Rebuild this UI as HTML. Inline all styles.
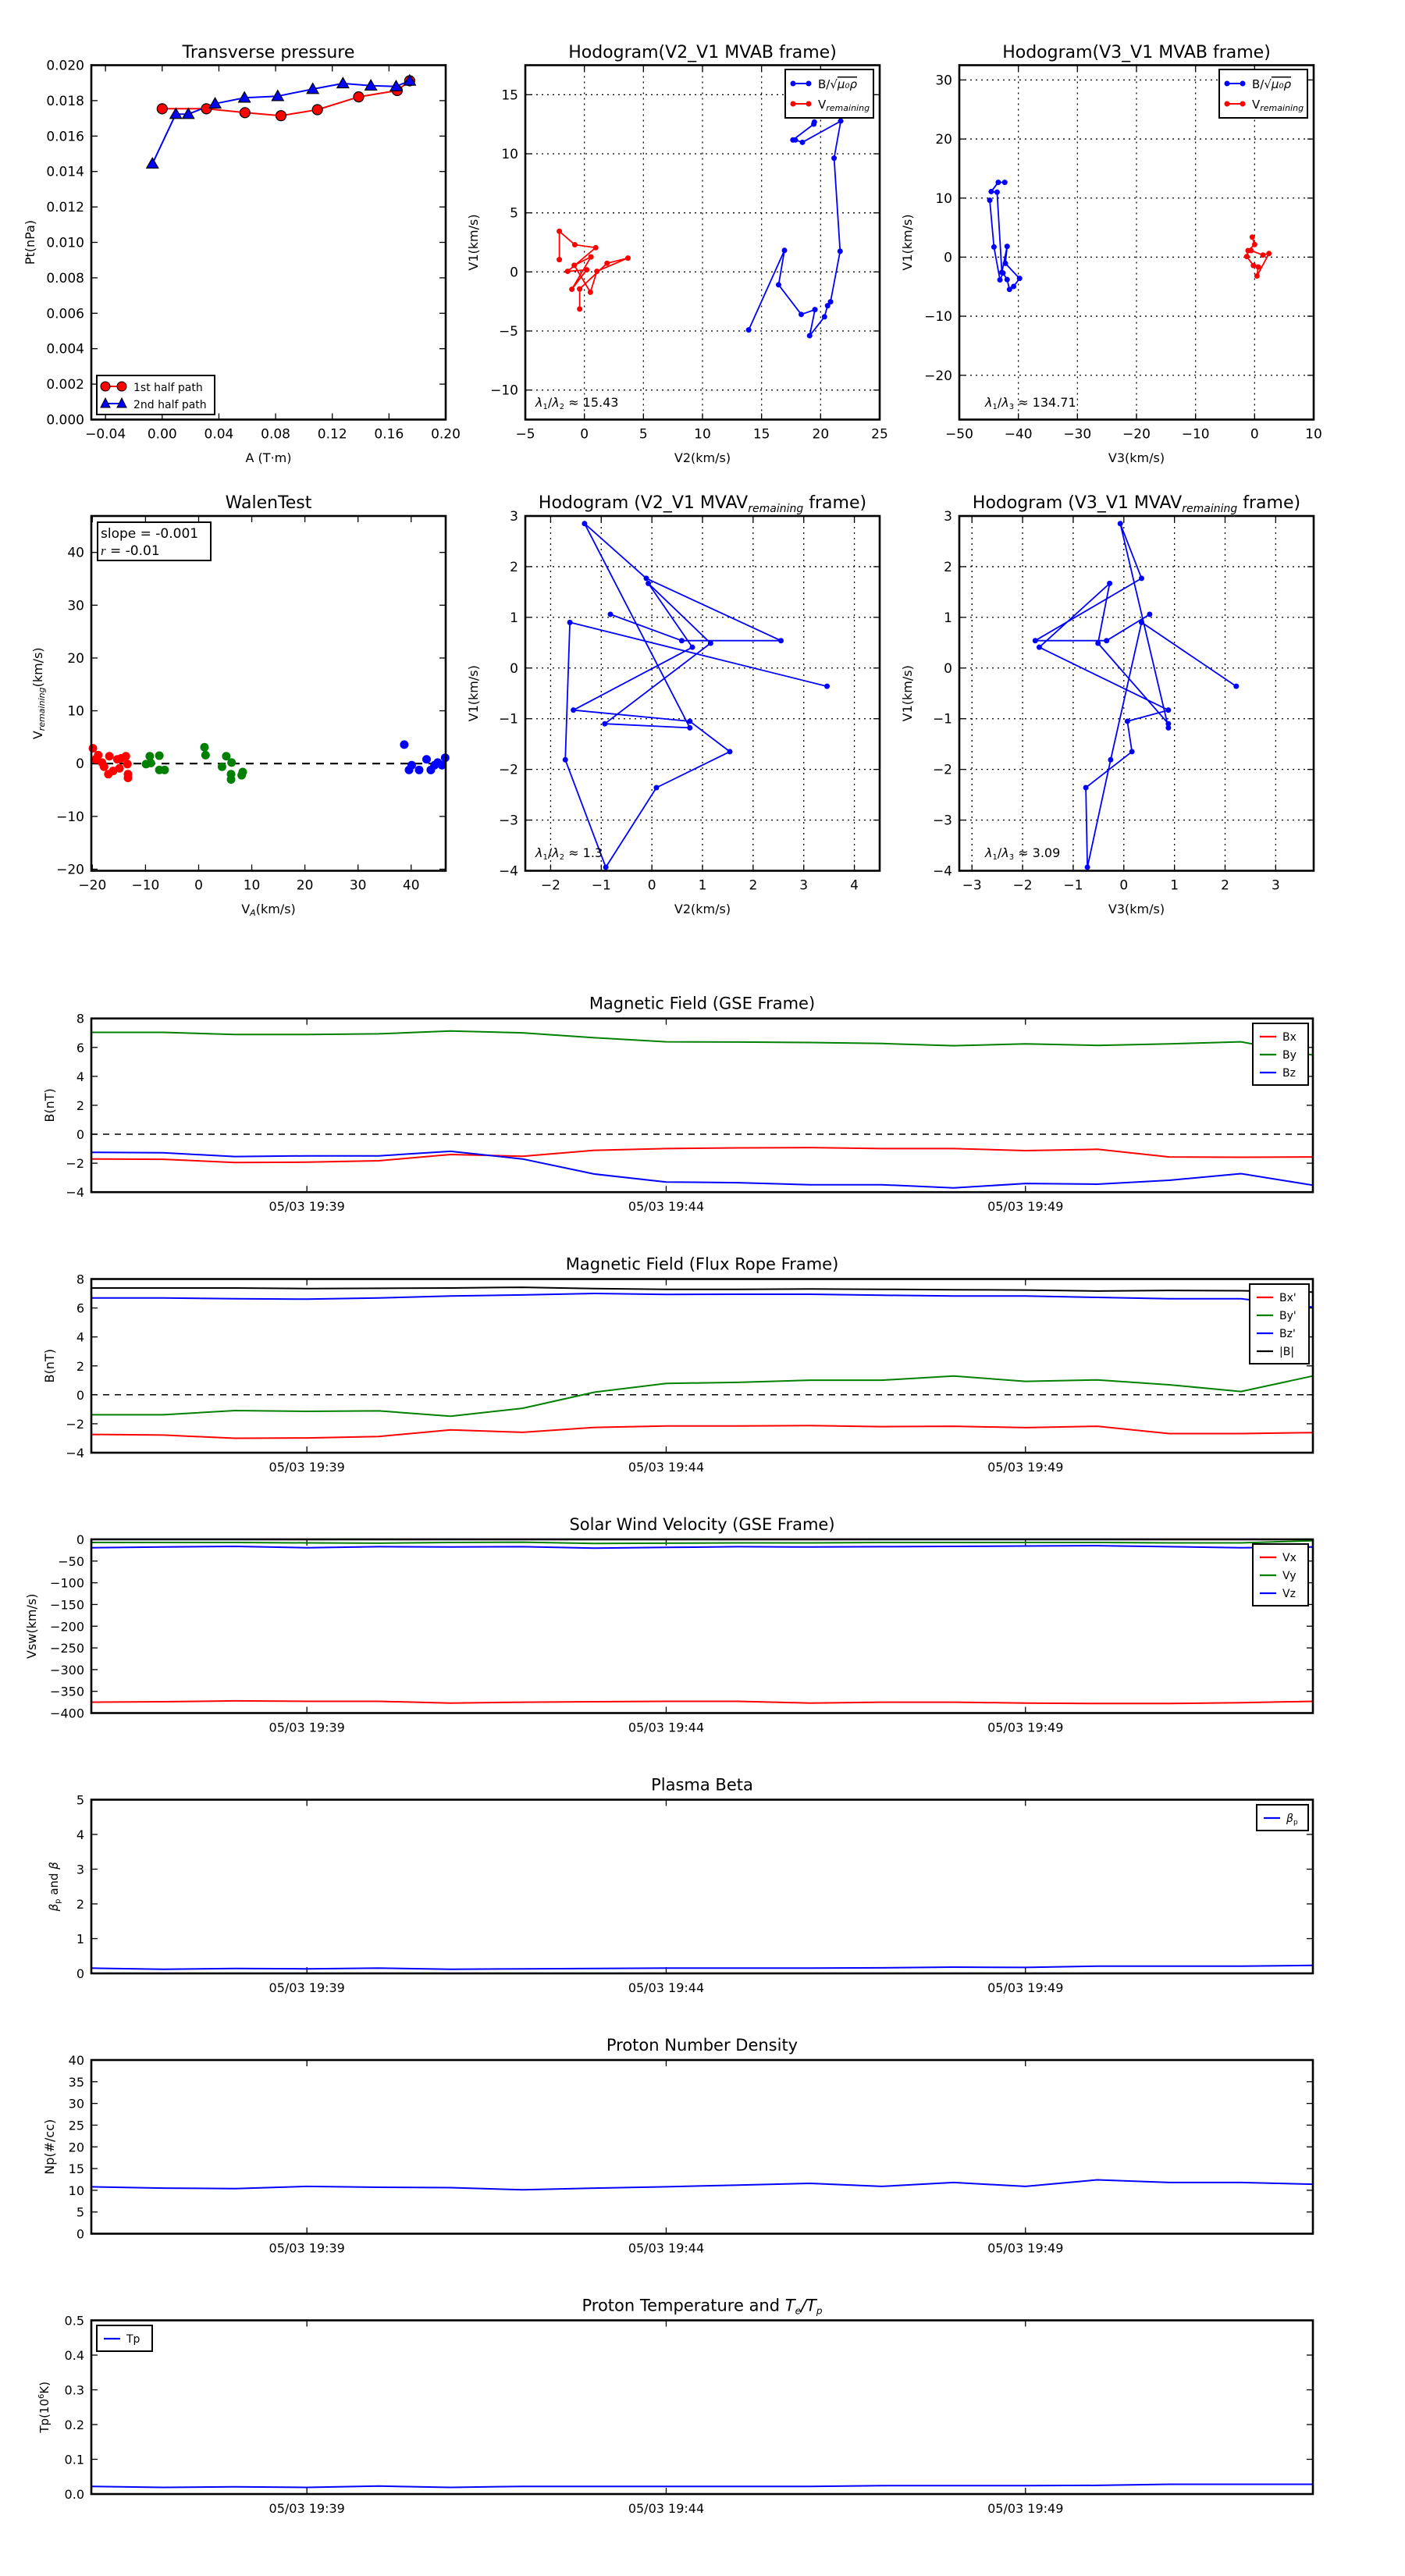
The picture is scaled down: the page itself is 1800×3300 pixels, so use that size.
<!DOCTYPE html>
<html><head><meta charset="utf-8"><title>Flux rope analysis</title>
<style>
html,body{margin:0;padding:0;background:#fff;}
svg{display:block;font-family:"DejaVu Sans","Liberation Sans",sans-serif;}
</style></head>
<body>
<svg id="fig" xmlns="http://www.w3.org/2000/svg" width="1800" height="3300" viewBox="0 0 1800 3300">
<rect x="0" y="0" width="1800" height="3300" fill="#fff"/>
</svg>
<script>
// ---------- Data ----------
const ptRedA = [0, 0.0312, 0.0584, 0.0838, 0.1095, 0.1386, 0.1658, 0.1746];
const ptRedP = [0.01754, 0.01754, 0.01732, 0.01715, 0.01749, 0.01821, 0.01857, 0.01912];
const ptBlueA = [-0.0069, 0.0096, 0.0184, 0.0373, 0.058, 0.0815, 0.1062, 0.1275, 0.1472, 0.165, 0.1746];
const ptBlueP = [0.01444, 0.01724, 0.01724, 0.01783, 0.01816, 0.01825, 0.01865, 0.01897, 0.01884, 0.0188, 0.01912];

const hbV2 = [13.91, 16.94, 16.44, 18.36, 19.52, 19.07, 20.33, 20.59, 20.84, 21.65, 21.14, 21.70, 18.46, 17.86, 17.65, 19.42, 19.47];
const hbV1 = [-4.91, 1.82, -1.09, -3.60, -3.19, -5.40, -3.80, -2.86, -2.53, 1.75, 9.63, 12.77, 10.97, 11.17, 11.17, 12.51, 12.69];
const hrV2 = [-2.12, -2.12, -0.81, 0.96, -1.42, 0.20, -1.06, 0.56, -0.86, 0.51, 1.06, 3.69, 1.92, -0.40, -0.40];
const hrV1 = [1.04, 3.44, 2.30, 2.05, 0.05, 0.18, -1.47, 1.27, 0.56, -1.72, 0.05, 1.17, 0.73, -1.44, -3.14];

const h3bV3 = [-44.84, -44.13, -43.12, -42.6, -41.9, -41.5, -40.8, -39.8, -42.2, -41.9, -42.8, -43.6, -44.6, -43.4, -42.3];
const h3bV1 = [9.63, 1.72, -3.85, -2.68, -3.8, -5.47, -4.96, -3.6, -1.06, 1.82, -2.58, 11.0, 11.1, 12.66, 12.66];
const h3rV3 = [-0.4, 0, -1.11, -1.32, -0.2, 0.61, 0.4, 2.43, 1.42, -0.6];
const h3rV1 = [3.39, 2.13, 1.11, 0.1, -1.42, -1.67, -3.19, 0.61, 0.35, 1.11];

const walRedX = [-19.9, -19.4, -18.9, -18.2, -17.8, -17.0, -16.8, -16.1, -15.3, -14.9, -14.6, -13.7, -13.4, -13.3, -13.3];
const walRedY = [2.9, 0.8, 1.6, 0.2, -0.6, -2.0, 1.4, -1.4, 0.8, -0.9, 1.0, 1.4, -0.1, -2.0, -2.7];
const walGrnX = [-9.9, -9.2, -9.0, -7.4, -7.4, -6.4, 1.1, 1.3, 4.4, 5.2, 6.2, 6.1, 6.1, 8.1, 8.3];
const walGrnY = [-0.1, 1.4, 0.1, 1.5, -1.2, -1.2, 3.1, 1.6, -0.6, 1.4, 0.2, -2.0, -3.0, -2.2, -1.6];
const walBluX = [38.7, 39.6, 40.1, 41.5, 42.9, 43.7, 44.4, 45.0, 45.8, 46.4];
const walBluY = [3.6, -1.2, -0.3, -1.2, 0.8, -1.2, -0.3, 0.2, -0.3, 1.1];

const mvV1 = [1.06, 0.54, 0.54, 1.77, 2.85, -1.18, -1.10, 0.49, 1.67, 0.41, -0.83, -1.05, -1.65, -2.36, -3.93, -1.81, 0.90, -0.36];
const mvV2 = [-0.82, 0.59, 2.55, -0.11, -1.33, 0.75, -0.93, 1.16, -0.07, 0.80, -1.55, 0.75, 1.54, 0.09, -0.91, -1.71, -1.62, 3.46];
const mvV3 = [0.51, -0.34, -1.75, 0.35, -0.07, 0.88, 0.88, -0.51, -0.28, -1.67, 0.88, 0.07, 0.16, -0.75, -0.72, -0.26, 0.35, 2.22];

const tMin = [0,1,2,3,4,5,6,7,8,9,10,11,12,13,14,15,16,17];
const timeTickPos = [3, 8, 13];
const timeTickLabels = ["05/03 19:39", "05/03 19:44", "05/03 19:49"];

const gseBx = [-1.71,-1.73,-1.95,-1.93,-1.83,-1.40,-1.52,-1.11,-0.99,-0.94,-0.92,-0.99,-0.99,-1.13,-1.04,-1.57,-1.59,-1.57];
const gseBy = [7.04,7.04,6.89,6.89,6.94,7.13,7.01,6.67,6.39,6.37,6.34,6.27,6.12,6.24,6.14,6.24,6.39,5.47];
const gseBz = [-1.25,-1.28,-1.54,-1.49,-1.49,-1.18,-1.71,-2.75,-3.30,-3.35,-3.49,-3.49,-3.71,-3.40,-3.45,-3.18,-2.72,-3.52];

const frBx = [-2.74,-2.78,-3.0,-2.98,-2.88,-2.42,-2.59,-2.25,-2.15,-2.15,-2.13,-2.20,-2.17,-2.27,-2.17,-2.68,-2.68,-2.61];
const frBy = [-1.38,-1.38,-1.09,-1.14,-1.11,-1.48,-0.93,0.18,0.79,0.86,1.01,1.01,1.30,0.93,1.03,0.69,0.23,1.30];
const frBz = [6.69,6.69,6.64,6.61,6.69,6.83,6.90,7.00,6.93,6.95,6.95,6.88,6.83,6.83,6.73,6.64,6.64,6.06];
const frBt = [7.38,7.38,7.38,7.34,7.36,7.38,7.43,7.34,7.29,7.29,7.31,7.29,7.26,7.24,7.17,7.21,7.19,7.10];

const vx = [-375,-374,-372,-373,-373,-377,-375,-374,-373,-373,-377,-375,-375,-377,-378,-378,-376,-373];
const vy = [-7.2,-7.2,-7.2,-8,-8.8,-7.2,-6.4,-9.6,-8.8,-8,-8,-7.2,-7.2,-7.2,-7.2,-8,-8,-3.2];
const vz = [-19.3,-17.7,-16.1,-19.3,-16.9,-17.7,-16.9,-20.1,-18.5,-16.9,-17.7,-16.9,-16.1,-15.3,-14.5,-16.9,-19.3,-17.7];

const betaP = [0.15,0.12,0.14,0.13,0.15,0.12,0.13,0.14,0.15,0.15,0.15,0.16,0.18,0.17,0.21,0.21,0.21,0.23];
const np = [10.8,10.5,10.4,10.9,10.7,10.6,10.1,10.5,10.8,11.2,11.6,10.9,11.8,10.9,12.4,11.8,11.8,11.4];
const tp = [0.022,0.019,0.021,0.019,0.023,0.019,0.022,0.022,0.022,0.022,0.022,0.024,0.024,0.024,0.025,0.028,0.028,0.028];

// ---------- Helpers ----------
const NS = "http://www.w3.org/2000/svg";
const fig = document.getElementById("fig");
function mk(parent, tag, attrs, name, inter) {
  const el = document.createElementNS(NS, tag);
  for (const k in attrs) el.setAttribute(k, attrs[k]);
  
  
  parent.appendChild(el);
  return el;
}
function txt(parent, x, y, s, size, anchor, name, extra) {
  const a = {x: x, y: y, 'font-size': size, 'text-anchor': anchor || 'middle', fill: '#000'};
  if (extra) for (const k in extra) a[k] = extra[k];
  const t = mk(parent, 'text', a, name, false);
  t.textContent = s;
  return t;
}
function fmt(v, d) { const s = Math.abs(v).toFixed(d); return (v < -1e-9 ? "\u2212" : "") + s; }

function makeAxes(o) {
  const g = mk(fig, 'g', {}, o.name, false);
  const sx = v => o.l + (v - o.xlim[0]) / (o.xlim[1] - o.xlim[0]) * (o.r - o.l);
  const sy = v => o.b - (v - o.ylim[0]) / (o.ylim[1] - o.ylim[0]) * (o.b - o.t);
  const ax = {g: g, sx: sx, sy: sy, o: o};
  const gridG = mk(g, 'g', {}, 'grid', false);
  const xt = mk(g, 'g', {}, 'x-axis', false);
  const yt = mk(g, 'g', {}, 'y-axis', false);
  o.xticks.forEach((v, i) => {
    const x = sx(v);
    if (o.grid) mk(gridG, 'line', {x1: x, x2: x, y1: o.t, y2: o.b, stroke: '#000', 'stroke-width': 1.3, 'stroke-dasharray': '2,5'}, 'x-gridline', false);
    mk(xt, 'line', {x1: x, x2: x, y1: o.b, y2: o.b - 8, stroke: '#000', 'stroke-width': 1.3}, 'x-tick', false);
    mk(xt, 'line', {x1: x, x2: x, y1: o.t, y2: o.t + 8, stroke: '#000', 'stroke-width': 1.3}, 'x-tick-top', false);
    txt(xt, x, o.b + 24, o.xlabels[i], o.tickSize || 17, 'middle', 'x-tick-label');
  });
  o.yticks.forEach((v, i) => {
    const y = sy(v);
    if (o.grid) mk(gridG, 'line', {x1: o.l, x2: o.r, y1: y, y2: y, stroke: '#000', 'stroke-width': 1.3, 'stroke-dasharray': '2,5'}, 'y-gridline', false);
    mk(yt, 'line', {x1: o.l, x2: o.l + 8, y1: y, y2: y, stroke: '#000', 'stroke-width': 1.3}, 'y-tick', false);
    mk(yt, 'line', {x1: o.r, x2: o.r - 8, y1: y, y2: y, stroke: '#000', 'stroke-width': 1.3}, 'y-tick-right', false);
    txt(yt, o.l - 9, y + 6, o.ylabels[i], o.tickSize || 17, 'end', 'y-tick-label');
  });
  ax.plot = mk(g, 'g', {}, 'plot-area', false);
  mk(g, 'rect', {x: o.l, y: o.t, width: o.r - o.l, height: o.b - o.t, fill: 'none', stroke: '#000', 'stroke-width': 2.6}, 'axes-frame', false);
  return ax;
}
function ticksRange(a, b, s) { const r = []; for (let v = a; v <= b + 1e-9; v += s) r.push(+v.toFixed(6)); return r; }
function line(ax, xs, ys, color, w, name, dash) {
  const pts = xs.map((x, i) => ax.sx(x).toFixed(1) + ',' + ax.sy(ys[i]).toFixed(1)).join(' ');
  const a = {points: pts, fill: 'none', stroke: color, 'stroke-width': w, 'stroke-linejoin': 'round'};
  if (dash) a['stroke-dasharray'] = dash;
  return mk(ax.plot, 'polyline', a, name, false);
}
function dots(ax, xs, ys, color, r, name, stroke) {
  xs.forEach((x, i) => {
    mk(ax.plot, 'circle', {cx: ax.sx(x), cy: ax.sy(ys[i]), r: r, fill: color, stroke: stroke || 'none', 'stroke-width': 1.2}, name, false);
  });
}
function tris(ax, xs, ys, color, s, name) {
  xs.forEach((x, i) => {
    const cx = ax.sx(x), cy = ax.sy(ys[i]);
    mk(ax.plot, 'polygon', {points: `${cx},${cy - s} ${cx - s},${cy + s * 0.75} ${cx + s},${cy + s * 0.75}`, fill: color, stroke: '#000', 'stroke-width': 1.2}, name, false);
  });
}
function ylab(x, y, s, size, name) {
  txt(fig, x, y, s, size, 'middle', name, {transform: `rotate(-90 ${x} ${y})`});
}

// ---------- Row 1 ----------
const W = 454;
const L1 = 117, L2 = 673, L3 = 1229;
const T1 = 83.5, B1 = 537.5, T2 = 661, B2 = 1115.5;

// Transverse pressure
let ax = makeAxes({name: 'transverse-pressure-chart', l: L1, r: L1 + W, t: T1, b: B1, xlim: [-0.05, 0.2], ylim: [0, 0.02],
  xticks: ticksRange(-0.04, 0.2, 0.04), xlabels: ticksRange(-0.04, 0.2, 0.04).map(v => fmt(v, 2)),
  yticks: ticksRange(0, 0.02, 0.002), ylabels: ticksRange(0, 0.02, 0.002).map(v => v.toFixed(3))});
line(ax, ptRedA, ptRedP, '#f00', 2, 'first-half-line');
line(ax, ptBlueA, ptBlueP, '#00f', 2, 'second-half-line');
dots(ax, ptRedA, ptRedP, '#f00', 6.5, 'first-half-point', '#000');
tris(ax, ptBlueA, ptBlueP, '#00f', 7.5, 'second-half-point');
txt(fig, L1 + W / 2, 74, 'Transverse pressure', 22, 'middle', 'chart-title');
ylab(44, (T1 + B1) / 2, 'Pt(nPa)', 16, 'y-axis-title');
txt(fig, L1 + W / 2, 592, 'A (T\u00b7m)', 16, 'middle', 'x-axis-title');
{
  const lg = mk(fig, 'g', {}, 'legend', false);
  mk(lg, 'rect', {x: 124, y: 481, width: 151, height: 50, fill: '#fff', stroke: '#000', 'stroke-width': 2}, 'legend-box', false);
  mk(lg, 'line', {x1: 135, x2: 156, y1: 495, y2: 495, stroke: '#f00', 'stroke-width': 2}, 'legend-line', false);
  mk(lg, 'circle', {cx: 135, cy: 495, r: 6, fill: '#f00', stroke: '#000'}, 'legend-marker', false);
  mk(lg, 'circle', {cx: 156, cy: 495, r: 6, fill: '#f00', stroke: '#000'}, 'legend-marker', false);
  txt(lg, 171, 501, '1st half path', 14, 'start', 'legend-label');
  mk(lg, 'line', {x1: 135, x2: 156, y1: 517, y2: 517, stroke: '#00f', 'stroke-width': 2}, 'legend-line', false);
  mk(lg, 'polygon', {points: '135,510 129,522 141,522', fill: '#00f', stroke: '#000'}, 'legend-marker', false);
  mk(lg, 'polygon', {points: '156,510 150,522 162,522', fill: '#00f', stroke: '#000'}, 'legend-marker', false);
  txt(lg, 171, 523, '2nd half path', 14, 'start', 'legend-label');
}

function hodoLegend(right, top) {
  const lg = mk(fig, 'g', {}, 'legend', false);
  const x0 = right - 121;
  mk(lg, 'rect', {x: x0, y: top, width: 113, height: 62, fill: '#fff', stroke: '#000', 'stroke-width': 2}, 'legend-box', false);
  mk(lg, 'line', {x1: x0 + 10, x2: x0 + 30, y1: top + 18, y2: top + 18, stroke: '#00f', 'stroke-width': 2}, 'legend-line', false);
  mk(lg, 'circle', {cx: x0 + 10, cy: top + 18, r: 3.5, fill: '#00f'}, 'legend-marker', false);
  mk(lg, 'circle', {cx: x0 + 30, cy: top + 18, r: 3.5, fill: '#00f'}, 'legend-marker', false);
  const t1 = txt(lg, x0 + 42, top + 24, 'B/\u221a', 15, 'start', 'legend-label');
  const s1 = document.createElementNS(NS, 'tspan');
  s1.setAttribute('font-style', 'italic'); s1.setAttribute('text-decoration', 'overline');
  s1.textContent = '\u03bc\u2080\u03c1'; t1.appendChild(s1);
  mk(lg, 'line', {x1: x0 + 10, x2: x0 + 30, y1: top + 44, y2: top + 44, stroke: '#f00', 'stroke-width': 2}, 'legend-line', false);
  mk(lg, 'circle', {cx: x0 + 10, cy: top + 44, r: 3.5, fill: '#f00'}, 'legend-marker', false);
  mk(lg, 'circle', {cx: x0 + 30, cy: top + 44, r: 3.5, fill: '#f00'}, 'legend-marker', false);
  const t2 = txt(lg, x0 + 42, top + 50, 'V', 15, 'start', 'legend-label');
  const s2 = document.createElementNS(NS, 'tspan');
  s2.setAttribute('font-style', 'italic'); s2.setAttribute('font-size', '11'); s2.setAttribute('dy', '3');
  s2.textContent = 'remaining'; t2.appendChild(s2);
}
function lamText(x, y, s1, s2, val, name) {
  const t = txt(fig, x, y, '', 16, 'start', name);
  t.innerHTML = '<tspan font-style="italic">\u03bb</tspan><tspan font-size="10" dy="3">1</tspan><tspan dy="-3">/</tspan><tspan font-style="italic">\u03bb</tspan><tspan font-size="10" dy="3">' + s2 + '</tspan><tspan dy="-3"> \u2248 ' + val + '</tspan>';
}

// Hodogram V2_V1 MVAB
ax = makeAxes({name: 'hodogram-v2-v1-mvab', l: L2, r: L2 + W, t: T1, b: B1, xlim: [-5, 25], ylim: [-12.5, 17.5], grid: true,
  xticks: ticksRange(-5, 25, 5), xlabels: ticksRange(-5, 25, 5).map(v => fmt(v, 0)),
  yticks: ticksRange(-10, 15, 5), ylabels: ticksRange(-10, 15, 5).map(v => fmt(v, 0))});
line(ax, hbV2, hbV1, '#00f', 1.8, 'b-alfven-line');
dots(ax, hbV2, hbV1, '#00f', 3.5, 'b-alfven-point');
line(ax, hrV2, hrV1, '#f00', 1.8, 'v-remaining-line');
dots(ax, hrV2, hrV1, '#f00', 3.5, 'v-remaining-point');
hodoLegend(L2 + W, 89);
lamText(L2 + 13, 521, '1', '2', '15.43', 'eigenvalue-ratio');
txt(fig, L2 + W / 2, 74, 'Hodogram(V2_V1 MVAB frame)', 22, 'middle', 'chart-title');
ylab(612, (T1 + B1) / 2, 'V1(km/s)', 16, 'y-axis-title');
txt(fig, L2 + W / 2, 592, 'V2(km/s)', 16, 'middle', 'x-axis-title');

// Hodogram V3_V1 MVAB
ax = makeAxes({name: 'hodogram-v3-v1-mvab', l: L3, r: L3 + W, t: T1, b: B1, xlim: [-50, 10], ylim: [-27.5, 32.5], grid: true,
  xticks: ticksRange(-50, 10, 10), xlabels: ticksRange(-50, 10, 10).map(v => fmt(v, 0)),
  yticks: ticksRange(-20, 30, 10), ylabels: ticksRange(-20, 30, 10).map(v => fmt(v, 0))});
line(ax, h3bV3, h3bV1, '#00f', 1.8, 'b-alfven-line');
dots(ax, h3bV3, h3bV1, '#00f', 3.5, 'b-alfven-point');
line(ax, h3rV3, h3rV1, '#f00', 1.8, 'v-remaining-line');
dots(ax, h3rV3, h3rV1, '#f00', 3.5, 'v-remaining-point');
hodoLegend(L3 + W, 89);
lamText(L3 + 33, 521, '1', '3', '134.71', 'eigenvalue-ratio');
txt(fig, L3 + W / 2, 74, 'Hodogram(V3_V1 MVAB frame)', 22, 'middle', 'chart-title');
ylab(1168, (T1 + B1) / 2, 'V1(km/s)', 16, 'y-axis-title');
txt(fig, L3 + W / 2, 592, 'V3(km/s)', 16, 'middle', 'x-axis-title');

// ---------- Row 2 ----------
ax = makeAxes({name: 'walen-test-chart', l: L1, r: L1 + W, t: T2, b: B2, xlim: [-20.2, 46.5], ylim: [-20.3, 46.9],
  xticks: ticksRange(-20, 40, 10), xlabels: ticksRange(-20, 40, 10).map(v => fmt(v, 0)),
  yticks: ticksRange(-20, 40, 10), ylabels: ticksRange(-20, 40, 10).map(v => fmt(v, 0))});
mk(ax.plot, 'line', {x1: ax.sx(-20.2), x2: ax.sx(46.5), y1: ax.sy(0), y2: ax.sy(0), stroke: '#000', 'stroke-width': 2.2, 'stroke-dasharray': '10,8'}, 'fit-line', false);
dots(ax, walRedX, walRedY, '#f00', 5.5, 'walen-point-red');
dots(ax, walGrnX, walGrnY, '#008000', 5.5, 'walen-point-green');
dots(ax, walBluX, walBluY, '#00f', 5.5, 'walen-point-blue');
mk(fig, 'rect', {x: 125, y: 669, width: 145, height: 49, fill: '#fff', stroke: '#000', 'stroke-width': 2}, 'stats-box', false);
txt(fig, 129, 689, 'slope = -0.001', 17, 'start', 'slope-text');
{ const t = txt(fig, 129, 711, '', 17, 'start', 'r-text'); t.innerHTML = '<tspan font-style="italic" font-family="Liberation Serif">r</tspan> = -0.01'; }
txt(fig, L1 + W / 2, 651, 'WalenTest', 22, 'middle', 'chart-title');
{ const t = txt(fig, 0, 0, '', 16, 'middle', 'y-axis-title', {transform: `rotate(-90 54 ${(T2 + B2) / 2}) translate(54 ${(T2 + B2) / 2})`});
  t.innerHTML = 'V<tspan font-size="11" font-style="italic" dy="3">remaining</tspan><tspan dy="-3">(km/s)</tspan>'; }
{ const t = txt(fig, L1 + W / 2, 1170, '', 16, 'middle', 'x-axis-title'); t.innerHTML = 'V<tspan font-size="11" font-style="italic" dy="3">A</tspan><tspan dy="-3">(km/s)</tspan>'; }

ax = makeAxes({name: 'hodogram-v2-v1-mvav', l: L2, r: L2 + W, t: T2, b: B2, xlim: [-2.5, 4.5], ylim: [-4, 3], grid: true,
  xticks: ticksRange(-2, 4, 1), xlabels: ticksRange(-2, 4, 1).map(v => fmt(v, 0)),
  yticks: ticksRange(-4, 3, 1), ylabels: ticksRange(-4, 3, 1).map(v => fmt(v, 0))});
line(ax, mvV2, mvV1, '#00f', 1.8, 'hodogram-line');
dots(ax, mvV2, mvV1, '#00f', 3.5, 'hodogram-point');
lamText(L2 + 13, 1098, '1', '2', '1.3', 'eigenvalue-ratio');
{ const t = txt(fig, L2 + W / 2, 651, '', 22, 'middle', 'chart-title'); t.innerHTML = 'Hodogram (V2_V1 MVAV<tspan font-size="14" font-style="italic" dy="5">remaining</tspan><tspan dy="-5"> frame)</tspan>'; }
ylab(612, (T2 + B2) / 2, 'V1(km/s)', 16, 'y-axis-title');
txt(fig, L2 + W / 2, 1170, 'V2(km/s)', 16, 'middle', 'x-axis-title');

ax = makeAxes({name: 'hodogram-v3-v1-mvav', l: L3, r: L3 + W, t: T2, b: B2, xlim: [-3.25, 3.75], ylim: [-4, 3], grid: true,
  xticks: ticksRange(-3, 3, 1), xlabels: ticksRange(-3, 3, 1).map(v => fmt(v, 0)),
  yticks: ticksRange(-4, 3, 1), ylabels: ticksRange(-4, 3, 1).map(v => fmt(v, 0))});
line(ax, mvV3, mvV1, '#00f', 1.8, 'hodogram-line');
dots(ax, mvV3, mvV1, '#00f', 3.5, 'hodogram-point');
lamText(L3 + 33, 1098, '1', '3', '3.09', 'eigenvalue-ratio');
{ const t = txt(fig, L3 + W / 2, 651, '', 22, 'middle', 'chart-title'); t.innerHTML = 'Hodogram (V3_V1 MVAV<tspan font-size="14" font-style="italic" dy="5">remaining</tspan><tspan dy="-5"> frame)</tspan>'; }
ylab(1168, (T2 + B2) / 2, 'V1(km/s)', 16, 'y-axis-title');
txt(fig, L3 + W / 2, 1170, 'V3(km/s)', 16, 'middle', 'x-axis-title');

// ---------- Time series ----------
const TL = 117, TR = 1682, TH = 222.5;
function tsAxes(name, top, ylim, yt, ylbls) {
  return makeAxes({name: name, l: TL, r: TR, t: top, b: top + TH, xlim: [0, 17], ylim: ylim,
    xticks: timeTickPos, xlabels: timeTickLabels, yticks: yt, ylabels: ylbls, tickSize: 16});
}
function tsLegend(x, y, w, entries, name) {
  const lg = mk(fig, 'g', {}, name, false);
  const h = entries.length * 23 + 10;
  mk(lg, 'rect', {x: x, y: y, width: w, height: h, fill: '#fff', stroke: '#000', 'stroke-width': 2}, 'legend-box', false);
  entries.forEach((e, i) => {
    const cy = y + 17 + i * 23;
    mk(lg, 'line', {x1: x + 9, x2: x + 30, y1: cy, y2: cy, stroke: e[1], 'stroke-width': 2.2}, 'legend-line', false);
    const t = txt(lg, x + 38, cy + 5, '', 14, 'start', 'legend-label');
    t.innerHTML = e[0];
  });
}
const tops = [1304.7, 1638.5, 1972, 2305.5, 2639, 2972.5];
const zero = a => a.map(() => 0);

// GSE B
ax = tsAxes('magnetic-field-gse-chart', tops[0], [-4, 8], ticksRange(-4, 8, 2), ticksRange(-4, 8, 2).map(v => fmt(v, 0)));
line(ax, [0, 17], [0, 0], '#000', 1.5, 'zero-line', '8,7');
line(ax, tMin, gseBx, '#f00', 2, 'bx-line');
line(ax, tMin, gseBy, '#008000', 2, 'by-line');
line(ax, tMin, gseBz, '#00f', 2, 'bz-line');
tsLegend(1605, 1311, 71, [['Bx', '#f00'], ['By', '#008000'], ['Bz', '#00f']], 'legend');
txt(fig, (TL + TR) / 2, tops[0] - 12, 'Magnetic Field (GSE Frame)', 21, 'middle', 'chart-title');
ylab(69, tops[0] + TH / 2, 'B(nT)', 16, 'y-axis-title');

// Flux rope B
ax = tsAxes('magnetic-field-flux-rope-chart', tops[1], [-4, 8], ticksRange(-4, 8, 2), ticksRange(-4, 8, 2).map(v => fmt(v, 0)));
line(ax, [0, 17], [0, 0], '#000', 1.5, 'zero-line', '8,7');
line(ax, tMin, frBx, '#f00', 2, 'bx-prime-line');
line(ax, tMin, frBy, '#008000', 2, 'by-prime-line');
line(ax, tMin, frBz, '#00f', 2, 'bz-prime-line');
line(ax, tMin, frBt, '#000', 2, 'b-magnitude-line');
tsLegend(1601, 1645, 76, [["Bx'", '#f00'], ["By'", '#008000'], ["Bz'", '#00f'], ['|B|', '#000']], 'legend');
txt(fig, (TL + TR) / 2, tops[1] - 12, 'Magnetic Field (Flux Rope Frame)', 21, 'middle', 'chart-title');
ylab(69, tops[1] + TH / 2, 'B(nT)', 16, 'y-axis-title');

// Velocity
ax = tsAxes('solar-wind-velocity-chart', tops[2], [-400, 0], ticksRange(-400, 0, 50), ticksRange(-400, 0, 50).map(v => fmt(v, 0)));
line(ax, tMin, vx, '#f00', 2, 'vx-line');
line(ax, tMin, vy, '#008000', 2, 'vy-line');
line(ax, tMin, vz, '#00f', 2, 'vz-line');
tsLegend(1605, 1978, 71, [['Vx', '#f00'], ['Vy', '#008000'], ['Vz', '#00f']], 'legend');
txt(fig, (TL + TR) / 2, tops[2] - 12, 'Solar Wind Velocity (GSE Frame)', 21, 'middle', 'chart-title');
ylab(46, tops[2] + TH / 2, 'Vsw(km/s)', 16, 'y-axis-title');

// Beta
ax = tsAxes('plasma-beta-chart', tops[3], [0, 5], ticksRange(0, 5, 1), ticksRange(0, 5, 1).map(v => fmt(v, 0)));
line(ax, tMin, betaP, '#00f', 2, 'beta-p-line');
tsLegend(1610, 2312, 66, [['<tspan font-style="italic">\u03b2</tspan><tspan font-size="9" dy="3">p</tspan>', '#00f']], 'legend');
txt(fig, (TL + TR) / 2, tops[3] - 12, 'Plasma Beta', 21, 'middle', 'chart-title');
{ const cx = 74, cy = tops[3] + TH / 2; const t = txt(fig, cx, cy, '', 15, 'middle', 'y-axis-title', {transform: `rotate(-90 ${cx} ${cy})`});
  t.innerHTML = '<tspan font-style="italic">\u03b2</tspan><tspan font-size="10" dy="3">p</tspan><tspan dy="-3"> and </tspan><tspan font-style="italic">\u03b2</tspan>'; }

// Np
ax = tsAxes('proton-density-chart', tops[4], [0, 40], ticksRange(0, 40, 5), ticksRange(0, 40, 5).map(v => fmt(v, 0)));
line(ax, tMin, np, '#00f', 2, 'np-line');
txt(fig, (TL + TR) / 2, tops[4] - 12, 'Proton Number Density', 21, 'middle', 'chart-title');
ylab(69, tops[4] + TH / 2, 'Np(#/cc)', 16, 'y-axis-title');

// Tp
ax = tsAxes('proton-temperature-chart', tops[5], [0, 0.5], ticksRange(0, 0.5, 0.1), ticksRange(0, 0.5, 0.1).map(v => v.toFixed(1)));
line(ax, tMin, tp, '#00f', 2, 'tp-line');
tsLegend(124, 2979, 71, [['Tp', '#00f']], 'legend');
{ const t = txt(fig, (TL + TR) / 2, tops[5] - 12, '', 21, 'middle', 'chart-title');
  t.innerHTML = 'Proton Temperature and <tspan font-style="italic">T</tspan><tspan font-size="12" font-style="italic" dy="4">e</tspan><tspan dy="-4" font-style="italic">/T</tspan><tspan font-size="12" font-style="italic" dy="4">p</tspan>'; }
{ const cx = 62, cy = tops[5] + TH / 2; const t = txt(fig, cx, cy, '', 15, 'middle', 'y-axis-title', {transform: `rotate(-90 ${cx} ${cy})`});
  t.innerHTML = 'Tp(10<tspan font-size="10" dy="-6">6</tspan><tspan dy="6">K)</tspan>'; }
</script>
</body></html>
